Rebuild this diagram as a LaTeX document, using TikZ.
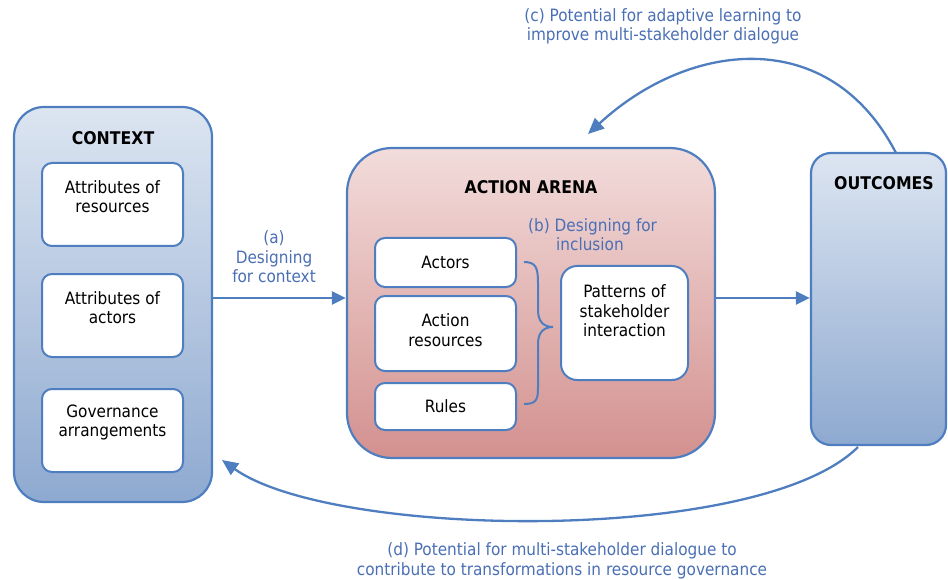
\documentclass[tikz,border=0pt]{standalone}
\usepackage{fontspec}
\setmainfont{DejaVu Sans Condensed}
\usetikzlibrary{arrows.meta}
\definecolor{lineblue}{HTML}{4F7EC0}
\definecolor{txtblue}{HTML}{4A6FB5}
\definecolor{ctxtop}{HTML}{DCE5F1}
\definecolor{ctxbot}{HTML}{8EA9D0}
\definecolor{arntop}{HTML}{F2DCDB}
\definecolor{arnbot}{HTML}{D3918F}
\begin{document}
\begin{tikzpicture}[x=1pt,y=-1pt,
  bigbox/.style={draw=lineblue, line width=2.2pt, rounded corners=#1, inner sep=0pt},
  smallbox/.style={draw=lineblue, line width=2pt, rounded corners=10pt, fill=white, inner sep=0pt},
  title/.style={font=\fontsize{17.5}{20}\selectfont\bfseries, inner sep=0pt},
  btext/.style={font=\fontsize{17}{19.5}\selectfont, align=center, inner sep=0pt},
  bluetext/.style={font=\fontsize{17}{19.5}\selectfont, align=center, inner sep=0pt, text=txtblue},
  conn/.style={draw=lineblue, line width=2.5pt, -{Triangle[length=14pt,width=13pt]}},
  arc/.style={draw=lineblue, line width=2.3pt, -{Triangle[length=16pt,width=14pt]}}
]
\useasboundingbox (0,0) rectangle (948,580);

% CONTEXT
\node[bigbox=30pt, top color=ctxtop, bottom color=ctxbot, minimum width=198pt, minimum height=395pt] (context) at (113,304.5) {};
\node[title] (ctxt) at (113,138) {CONTEXT};
\node[smallbox, minimum width=141pt, minimum height=83pt] (res) at (112.5,204.5) {};
\node[btext] (rest) at (112.5,196.5) {Attributes of\\resources};
\node[smallbox, minimum width=141pt, minimum height=83pt] (act) at (112.5,315.5) {};
\node[btext] (actt) at (112.5,307.5) {Attributes of\\actors};
\node[smallbox, minimum width=141pt, minimum height=83pt] (gov) at (112.5,430.5) {};
\node[btext] (govt) at (112.5,422.5) {Governance\\arrangements};

% ACTION ARENA
\node[bigbox=45pt, top color=arntop, bottom color=arnbot, minimum width=368pt, minimum height=310pt] (arena) at (531,303) {};
\node[title] (arenat) at (531,187) {ACTION ARENA};
\node[bluetext, align=left, anchor=base west] (incl) at (528,251) {(b) Designing for\\\hspace*{28pt}inclusion};
\node[smallbox, minimum width=141pt, minimum height=49pt] (actors) at (445.5,262.5) {};
\node[btext] (actorst) at (445.5,262) {Actors};
\node[smallbox, minimum width=141pt, minimum height=75pt] (ares) at (445.5,333.5) {};
\node[btext] (arest) at (445.5,330) {Action\\resources};
\node[smallbox, minimum width=141pt, minimum height=47pt] (rules) at (445.5,406.5) {};
\node[btext] (rulest) at (445.5,406) {Rules};
\node[smallbox, rounded corners=16pt, minimum width=127pt, minimum height=114pt] (pat) at (624.5,323) {};
\node[btext] (patt) at (624.5,311) {Patterns of\\stakeholder\\interaction};

% brace
\draw[draw=lineblue, line width=2pt] (524,262) .. controls (536,262) and (538,268) .. (538,283) -- (538,310) .. controls (538,322) and (544,327) .. (553,327) .. controls (544,327) and (538,332) .. (538,344) -- (538,388) .. controls (538,400) and (536,404) .. (524,404);

% OUTCOMES
\node[bigbox=20pt, top color=ctxtop, bottom color=ctxbot, minimum width=135pt, minimum height=292pt] (out) at (878.5,299) {};
\node[title] (outt) at (884,183) {OUTCOMES};

% connectors
\draw[conn] (context.east |- 0,298) -- (arena.west |- 0,298);
\node[bluetext] (alab) at (274,257) {(a)\\Designing\\for context};
\draw[conn] (arena.east |- 0,298) -- (out.west |- 0,298);

\coordinate (cstart) at (896,153);
\coordinate (cend) at (588,134);
\draw[arc] (cstart) .. controls (830,25) and (690,40) .. (cend);
\node[bluetext] (clab) at (663,26.5) {(c) Potential for adaptive learning to\\improve multi-stakeholder dialogue};

\coordinate (dstart) at (858,447);
\coordinate (dend) at (222,460);
\draw[arc] (dstart) .. controls (760,545) and (333,539) .. (dend);
\node[bluetext] (dlab) at (562,561) {(d) Potential for multi-stakeholder dialogue to\\contribute to transformations in resource governance};
\end{tikzpicture}
\end{document}
